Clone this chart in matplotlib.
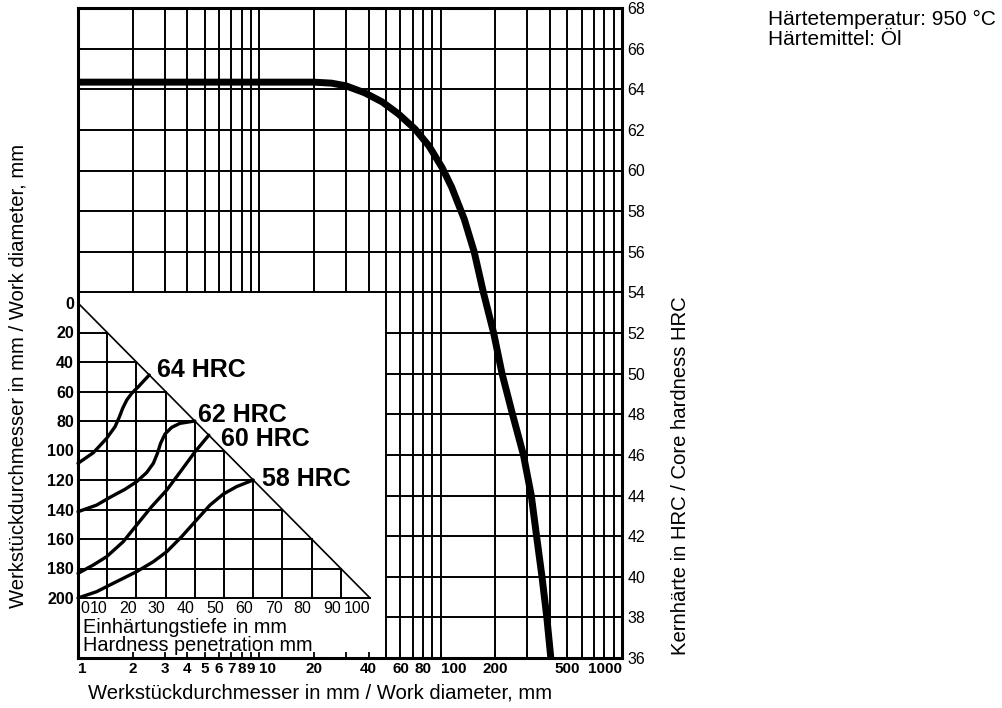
import matplotlib
matplotlib.use("Agg")
from matplotlib import pyplot as plt
from matplotlib.ticker import NullFormatter

plt.rcParams['font.family'] = ['Liberation Sans', 'DejaVu Sans']

# core hardness curve (work diameter mm -> HRC)
diam = [1, 20, 25, 30, 38, 47.5, 58.4, 72.4, 86.3, 102, 115, 135, 153, 172, 196, 218, 249, 286, 316,
        338, 362, 385, 405]
hrc = [64.35, 64.35, 64.3, 64.17, 63.83, 63.38, 62.79, 62.03, 61.2, 60.13, 59.18, 57.6, 56.0, 54.0,
       52.0, 50.0, 48.0, 46.0, 44.0, 42.0, 40.0, 38.0, 36.0]

# hardness penetration nomogram (depth mm, diameter mm)
c64_d = [0, 5.25, 9.8, 12.7, 14.2, 15.3, 16.7, 18.4, 20.7, 24.4]
c64_D = [108.7, 101.5, 91.8, 83.8, 77.1, 71.4, 65.8, 61.2, 56.7, 48.8]
c62_d = [0, 6.4, 11, 16.1, 20.1, 23.5, 25.8, 27.2, 28.3, 29.8, 32.1, 34.9, 40]
c62_D = [141.5, 137, 131.7, 126.3, 121.1, 115, 108.7, 101.9, 95.1, 88.8, 84.3, 81.6, 80]
c60_d = [0, 5.25, 9.8, 15.5, 20.1, 25.2, 30.4, 35.5, 40.1, 44.8]
c60_D = [183.3, 177.6, 172, 161.8, 150.5, 138.1, 126.8, 113.2, 100.8, 89.6]
c58_d = [0, 6.4, 12.1, 20.1, 25.8, 30.4, 35.5, 40.6, 45.2, 49.8, 54.3, 60]
c58_D = [200, 195.7, 190, 182.1, 175.4, 168.6, 158.4, 147.1, 137, 129.5, 124.5, 120]
curves = [(c64_d, c64_D, '64 HRC', 27, 45.4),
          (c62_d, c62_D, '62 HRC', 41.1, 76),
          (c60_d, c60_D, '60 HRC', 49, 92.2),
          (c58_d, c58_D, '58 HRC', 63, 119)]

x_grid = list(range(2, 10)) + list(range(10, 100, 10)) + list(range(100, 1000, 100))
x_labels = [1, 2, 3, 4, 5, 6, 7, 8, 9, 10, 20, 40, 60, 80, 100, 200, 500, 1000]
y_grid = list(range(38, 68, 2))
y_labels = list(range(36, 69, 2))
depth_ticks = list(range(0, 101, 10))
diam_ticks = list(range(0, 201, 20))

W, H = 1002, 708
fig = plt.figure(figsize=(W / 100, H / 100), dpi=100)
ax = fig.add_axes([78 / W, 50 / H, 544 / W, 650 / H])
ax.set_xscale('log')
ax.set_xlim(1, 1000)
ax.set_ylim(36, 68)

# grid, lower-left corner left free for the nomogram
ax.vlines(x_grid, [54 if v < 50 else 36 for v in x_grid], 68, color='black', lw=1.4)
ax.hlines(y_grid, [50 if h < 54 else 1 for h in y_grid], 1000, color='black', lw=1.4)

ax.plot(diam, hrc, color='black', lw=5, solid_capstyle='butt')

ax.yaxis.tick_right()
ax.set_yticks(y_labels)
ax.tick_params(axis='y', length=0, pad=4, labelsize=11.5)
ax.set_xticks(x_labels, [str(v) for v in x_labels])
ax.set_xticks(x_grid, minor=True)
ax.xaxis.set_minor_formatter(NullFormatter())
ax.tick_params(axis='x', which='both', direction='in', length=4, width=1.3, pad=3, labelsize=11)
for v, lab in zip(x_labels, ax.get_xticklabels()):
    lab.set_fontweight('bold')
    if v in (1, 10, 100):
        lab.set_horizontalalignment('left')
    elif v == 1000:
        lab.set_horizontalalignment('right')
for s in ax.spines.values():
    s.set_linewidth(2.2)

# nomogram
ax2 = fig.add_axes([78 / W, (H - 598) / H, 292 / W, 295 / H])
ax2.set_xlim(0, 100)
ax2.set_ylim(200, 0)
ax2.patch.set_alpha(0)
for s in ax2.spines.values():
    s.set_visible(False)
ax2.set_xticks([])
ax2.set_yticks(diam_ticks)
ax2.tick_params(axis='y', length=0, pad=3, labelsize=11.5)
for lab in ax2.get_yticklabels():
    lab.set_fontweight('bold')

for d in depth_ticks[1:-1]:
    ax2.plot([d, d], [2 * d, 200], color='black', lw=1.4, clip_on=False)
for D in diam_ticks[1:]:
    ax2.plot([0, D / 2], [D, D], color='black', lw=1.4, clip_on=False)
ax2.plot([0, 100], [0, 200], color='black', lw=1.2, clip_on=False)

for cd, cD, name, tx, ty in curves:
    ax2.plot(cd, cD, color='black', lw=2.4, clip_on=False, solid_capstyle='round',
             solid_joinstyle='round')
    ax2.text(tx, ty, name, fontsize=18, fontweight='bold', ha='left', va='center')

for d in depth_ticks:
    ax2.text(d + (0.8 if d == 0 else 0), 207, str(d), ha='left' if d == 0 else 'right',
             va='center', fontsize=11.5)
ax2.text(1.7, 213.5, 'Einhärtungstiefe in mm\nHardness penetration mm', ha='left', va='top',
         fontsize=14.3, linespacing=0.95)

fig.text(320 / W, 1 - 693 / H, 'Werkstückdurchmesser in mm / Work diameter, mm',
         ha='center', va='center', fontsize=14.6)
fig.text(18 / W, 1 - 376 / H, 'Werkstückdurchmesser in mm / Work diameter, mm',
         ha='center', va='center', rotation=90, fontsize=14.6)
fig.text(681 / W, 1 - 476 / H, 'Kernhärte in HRC / Core hardness HRC',
         ha='center', va='center', rotation=90, fontsize=14.6)
fig.text(768 / W, 1 - 25 / H, 'Härtetemperatur: 950 °C', ha='left', va='baseline', fontsize=15)
fig.text(768 / W, 1 - 45 / H, 'Härtemittel: Öl', ha='left', va='baseline', fontsize=15)

fig.savefig('out.png', dpi=100)
